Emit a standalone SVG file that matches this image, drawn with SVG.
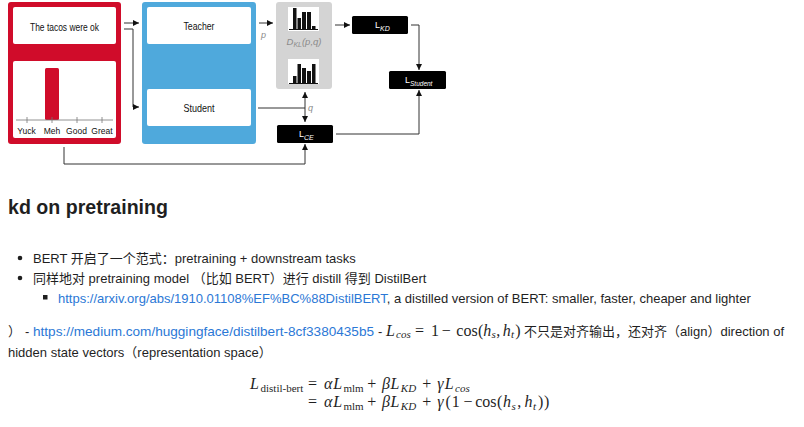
<svg xmlns="http://www.w3.org/2000/svg" width="804" height="427" viewBox="0 0 804 427">
<style>
.dg{font-family:"Liberation Sans Narrow","Liberation Sans",sans-serif;fill:#111}
.wh{font-family:"Liberation Sans Narrow","Liberation Sans",sans-serif;fill:#fff}
.gr{font-family:"Liberation Sans Narrow","Liberation Sans",sans-serif;fill:#8a8a8a;font-style:italic}
.ln{fill:none;stroke:#333;stroke-width:1}
.body{font-family:"Liberation Sans","Noto Sans CJK SC",sans-serif;font-size:13px;fill:#1f1f1f}
.link{fill:#2b78d6}
.m{font-family:"Liberation Serif",serif;fill:#1f1f1f;font-size:16px}
.it{font-style:italic}
.sb{font-size:11px}
</style>
<defs>
<marker id="ah" viewBox="0 0 7 7" refX="7" refY="3.5" markerWidth="6" markerHeight="6" markerUnits="userSpaceOnUse" orient="auto-start-reverse">
<path d="M0,0 L7,3.5 L0,7 z" fill="#111"/>
</marker>
</defs>
<rect width="804" height="427" fill="#fff"/>

<g id="input">
<rect x="8" y="2" width="113" height="142" rx="3" fill="#d00c2a"/>
<rect x="13" y="7" width="103" height="37" rx="2" fill="#fff"/>
<text class="dg" x="64.5" y="30.5" font-size="10.5" text-anchor="middle" textLength="69" lengthAdjust="spacingAndGlyphs">The tacos were ok</text>
<rect x="13" y="61" width="103" height="77" rx="2" fill="#fff"/>
<rect x="45" y="68" width="14" height="52" rx="1.5" fill="#d00c2a"/>
<line x1="16" y1="120" x2="113" y2="120" stroke="#777" stroke-width="0.8"/>
<g stroke="#777" stroke-width="0.8"><line x1="27" y1="117" x2="27" y2="123"/><line x1="52" y1="117" x2="52" y2="123"/><line x1="77" y1="117" x2="77" y2="123"/><line x1="102" y1="117" x2="102" y2="123"/></g>
<text class="dg" font-size="8.5" y="134" text-anchor="middle"><tspan x="26.5">Yuck</tspan><tspan x="52">Meh</tspan><tspan x="76.5">Good</tspan><tspan x="102">Great</tspan></text>
</g>

<g id="models">
<rect x="142" y="2" width="114" height="142" rx="3" fill="#4fa9dc"/>
<rect x="147" y="7" width="104" height="37" rx="2" fill="#fff"/>
<text class="dg" x="199" y="29.5" font-size="10.5" text-anchor="middle" textLength="31" lengthAdjust="spacingAndGlyphs">Teacher</text>
<rect x="147" y="89" width="104" height="37" rx="2" fill="#fff"/>
<text class="dg" x="199" y="111.5" font-size="10.5" text-anchor="middle" textLength="31" lengthAdjust="spacingAndGlyphs">Student</text>
</g>

<g id="kl">
<rect x="276" y="2" width="56" height="87" rx="3" fill="#d4d4d4"/>
<rect x="288" y="7" width="31" height="24" fill="#fff"/>
<g fill="#111"><rect x="293" y="8" width="3.5" height="21"/><rect x="297.5" y="18" width="3.5" height="11"/><rect x="302" y="12" width="4" height="17"/><rect x="307" y="12" width="4" height="17"/><rect x="312" y="26" width="3.5" height="3"/></g>
<line x1="289" y1="29.5" x2="318" y2="29.5" stroke="#111" stroke-width="1"/>
<text class="gr" x="304" y="45" font-size="9.5" text-anchor="middle">D<tspan font-size="7" dy="2">KL</tspan><tspan dy="-2">(p,q)</tspan></text>
<rect x="288" y="59" width="31" height="25" fill="#fff"/>
<g fill="#111"><rect x="293" y="76" width="3.5" height="7"/><rect x="297.5" y="64" width="3.5" height="19"/><rect x="302" y="68" width="4" height="15"/><rect x="307" y="71" width="4" height="12"/><rect x="312" y="64" width="3.5" height="19"/></g>
<line x1="289" y1="83.5" x2="318" y2="83.5" stroke="#111" stroke-width="1"/>
</g>

<g id="lkd">
<rect x="352" y="16" width="56" height="18" rx="1.5" fill="#000"/>
<text class="wh" x="375" y="28" font-size="9">L<tspan font-size="7" font-style="italic" dy="3">KD</tspan></text>
</g>
<g id="lstudent">
<rect x="389" y="71" width="57" height="18" rx="1.5" fill="#000"/>
<text class="wh" x="405" y="83" font-size="9">L<tspan font-size="6.5" font-style="italic" dy="3">Student</tspan></text>
</g>
<g id="lce">
<rect x="277" y="125" width="56" height="18" rx="1.5" fill="#000"/>
<text class="wh" x="299" y="137" font-size="9">L<tspan font-size="7" font-style="italic" dy="3">CE</tspan></text>
</g>

<g id="connectors">
<path class="ln" d="M124,23 H139" marker-end="url(#ah)"/>
<path class="ln" d="M124,29 H133 V107 H139" marker-end="url(#ah)"/>
<path class="ln" d="M259,23 H273" marker-end="url(#ah)"/>
<path class="ln" d="M335,25 H350" marker-end="url(#ah)"/>
<path class="ln" d="M411,25 H419 V70" marker-end="url(#ah)"/>
<path class="ln" d="M258,108 H305"/>
<path class="ln" d="M305,92 V122" marker-start="url(#ah)" marker-end="url(#ah)"/>
<path class="ln" d="M336,134 H419 V90" marker-end="url(#ah)"/>
<path class="ln" d="M64,147 V164 H305 V144" marker-end="url(#ah)"/>
<text class="gr" x="261" y="38" font-size="9">p</text>
<text class="gr" x="308" y="111" font-size="9">q</text>
</g>

<text x="8" y="214" font-family="Liberation Sans, sans-serif" font-size="20" font-weight="bold" fill="#1f1f1f" textLength="160" lengthAdjust="spacingAndGlyphs">kd on pretraining</text>

<circle cx="20" cy="258" r="2.3" fill="#1f1f1f"/>
<text class="body" x="33" y="262.5">BERT 开启了一个范式：pretraining + downstream tasks</text>
<circle cx="20" cy="278" r="2.3" fill="#1f1f1f"/>
<text class="body" x="33" y="282.5">同样地对 pretraining model （比如 BERT）进行 distill 得到 DistilBert</text>
<rect x="43" y="295" width="4.5" height="4.5" fill="#1f1f1f"/>
<text class="body" x="58" y="302.5"><tspan class="link">https://arxiv.org/abs/1910.01108%EF%BC%88DistilBERT</tspan>, a distilled version of BERT: smaller, faster, cheaper and lighter</text>

<text class="body" x="8" y="335.5">）</text>
<text class="body" x="25" y="335.5">-</text>
<text class="body link" x="33" y="335.5" textLength="341" lengthAdjust="spacingAndGlyphs">https://medium.com/huggingface/distilbert-8cf3380435b5</text>
<text class="body" x="378" y="335.5">-</text>
<text class="m" y="335.5"><tspan class="it" x="386">L</tspan><tspan class="it sb" x="396" dy="2.5">cos</tspan><tspan x="415" dy="-2.5">=</tspan><tspan x="431">1</tspan><tspan x="441.7">−</tspan><tspan x="456.3">cos</tspan><tspan x="478">(</tspan><tspan class="it" x="483.3">h</tspan><tspan class="it sb" x="491.6" dy="2.5">s</tspan><tspan x="496.3" dy="-2.5">,</tspan><tspan class="it" x="502.7">h</tspan><tspan class="it sb" x="511" dy="2.5">t</tspan><tspan x="515.3" dy="-2.5">)</tspan></text>
<text class="body" x="524" y="335.5">不只是对齐输出，还对齐（align）direction of</text>
<text class="body" x="8" y="356.5">hidden state vectors（representation space）</text>

<g id="equation" class="m">
<text y="389"><tspan class="it" x="250">L</tspan><tspan class="sb" x="260.5" dy="2.5">distil-bert</tspan><tspan x="308" dy="-2.5">=</tspan><tspan class="it" x="323.9">α</tspan><tspan class="it" x="333.2">L</tspan><tspan class="sb" x="343.5" dy="2.5">mlm</tspan><tspan x="367.3" dy="-2.5">+</tspan><tspan class="it" x="382">β</tspan><tspan class="it" x="390.6">L</tspan><tspan class="it sb" x="400.8" dy="2.5">KD</tspan><tspan x="422.3" dy="-2.5">+</tspan><tspan class="it" x="437.3">γ</tspan><tspan class="it" x="444.8">L</tspan><tspan class="it sb" x="455" dy="2.5">cos</tspan></text>
<text y="407"><tspan x="308">=</tspan><tspan class="it" x="323.9">α</tspan><tspan class="it" x="333.2">L</tspan><tspan class="sb" x="343.5" dy="2.5">mlm</tspan><tspan x="367.3" dy="-2.5">+</tspan><tspan class="it" x="382">β</tspan><tspan class="it" x="390.6">L</tspan><tspan class="it sb" x="400.8" dy="2.5">KD</tspan><tspan x="422.3" dy="-2.5">+</tspan><tspan class="it" x="437.3">γ</tspan><tspan x="445.5">(</tspan><tspan x="451.7">1</tspan><tspan x="463.4">−</tspan><tspan x="475.2">cos</tspan><tspan x="497">(</tspan><tspan class="it" x="503">h</tspan><tspan class="it sb" x="511.6" dy="2.5">s</tspan><tspan x="517.2" dy="-2.5">,</tspan><tspan class="it" x="524.4">h</tspan><tspan class="it sb" x="533" dy="2.5">t</tspan><tspan x="538" dy="-2.5">)</tspan><tspan x="544">)</tspan></text>
</g>
</svg>
